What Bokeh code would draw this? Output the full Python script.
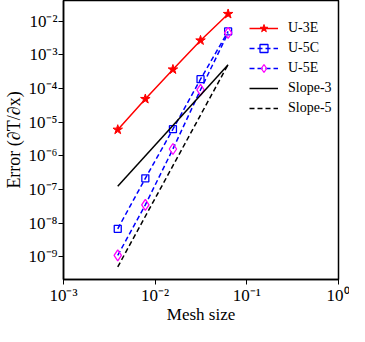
from bokeh.plotting import figure
from bokeh.models import Range1d, FixedTicker, CustomJSTickFormatter, Legend, LegendItem
from bokeh.embed import file_html
from bokeh.resources import INLINE

# ---- data ----
mesh = [1/256, 1/128, 1/64, 1/32, 1/16]
u3e = [6.0e-6, 4.9e-5, 3.7e-4, 2.7e-3, 1.65e-2]
u5c = [6.8e-9, 2.15e-7, 6.2e-6, 1.9e-4, 5.0e-3]
u5e = [1.1e-9, 3.5e-8, 1.6e-6, 9.2e-5, 4.5e-3]
slope_x = [1/256, 1/16]
slope3 = [1.25e-7, 5.1e-4]
slope5 = [5.0e-10, 5.2e-4]
x_ticks = [1e-3, 1e-2, 1e-1, 1.0]
y_ticks = [1e-9, 1e-8, 1e-7, 1e-6, 1e-5, 1e-4, 1e-3, 1e-2]
labels = ["U-3E", "U-5C", "U-5E", "Slope-3", "Slope-5"]
x_label = "Mesh size"
y_label = "Error (\u2202T/\u2202x)"

FONT = "Liberation Serif"

p = figure(width=349, height=326, x_axis_type="log", y_axis_type="log",
           output_backend="svg", toolbar_location=None,
           x_range=Range1d(1e-3, 1.0), y_range=Range1d(10**-9.675, 10**-1.382),
           min_border_left=0, min_border_right=11, min_border_top=0, min_border_bottom=37)

p.background_fill_color = "white"
p.border_fill_color = "white"
p.outline_line_color = "black"
p.outline_line_width = 1.5
p.xgrid.visible = False
p.ygrid.visible = False

fmt = CustomJSTickFormatter(code="""
const sup = {"-":"\u207b","0":"\u2070","1":"\u00b9","2":"\u00b2","3":"\u00b3","4":"\u2074",
             "5":"\u2075","6":"\u2076","7":"\u2077","8":"\u2078","9":"\u2079"};
const e = Math.round(Math.log10(tick));
return "10" + String(e).split("").map(c => sup[c]).join("");
""")

for ax, ticks in ((p.xaxis[0], x_ticks), (p.yaxis[0], y_ticks)):
    ax.ticker = FixedTicker(ticks=ticks, minor_ticks=[])
    ax.formatter = fmt
    ax.major_label_text_font = FONT
    ax.major_label_text_font_size = "17px"
    ax.major_label_text_color = "black"
    ax.axis_label_text_font = FONT
    ax.axis_label_text_font_style = "normal"
    ax.axis_label_text_color = "black"
    ax.axis_line_color = "black"
    ax.axis_line_width = 1.5
    ax.major_tick_line_color = "black"
    ax.major_tick_out = 5
    ax.major_tick_in = 0
    ax.minor_tick_line_color = None
    ax.major_label_standoff = 1

p.xaxis.axis_label = x_label
p.xaxis.axis_label_text_font_size = "17px"
p.xaxis.axis_label_standoff = -3
p.yaxis.axis_label = y_label
p.yaxis.axis_label_text_font_size = "18px"
p.yaxis.axis_label_standoff = 2

r1l = p.line(mesh, u3e, line_color="red", line_width=1.5)
r1m = p.scatter(mesh, u3e, marker="star", size=10, fill_color="red", line_color="red")

r2l = p.line(mesh, u5c, line_color="blue", line_width=1.5, line_dash="5 3")
r2m = p.scatter(mesh, u5c, marker="square", size=7, fill_color=None, line_color="blue", line_width=1.3)

r3l = p.line(mesh, u5e, line_color="blue", line_width=1.5, line_dash="5 3")
r3m = p.scatter(mesh, u5e, marker="diamond", size=11, fill_color=None,
                line_color="magenta", line_width=1.3)

r4 = p.line(slope_x, slope3, line_color="black", line_width=1.5)
r5 = p.line(slope_x, slope5, line_color="black", line_width=1.5, line_dash="5 3")

items = [LegendItem(label=labels[0], renderers=[r1l, r1m]),
         LegendItem(label=labels[1], renderers=[r2l, r2m]),
         LegendItem(label=labels[2], renderers=[r3l, r3m]),
         LegendItem(label=labels[3], renderers=[r4]),
         LegendItem(label=labels[4], renderers=[r5])]

legend = Legend(items=items, location=(186, 161), padding=0, margin=0, spacing=0,
                glyph_width=29, glyph_height=20, label_height=20, label_standoff=10,
                border_line_color=None, background_fill_alpha=0,
                label_text_font=FONT, label_text_font_size="14px", label_text_color="black")
p.add_layout(legend)

open("out.html", "w").write(file_html(p, INLINE))
